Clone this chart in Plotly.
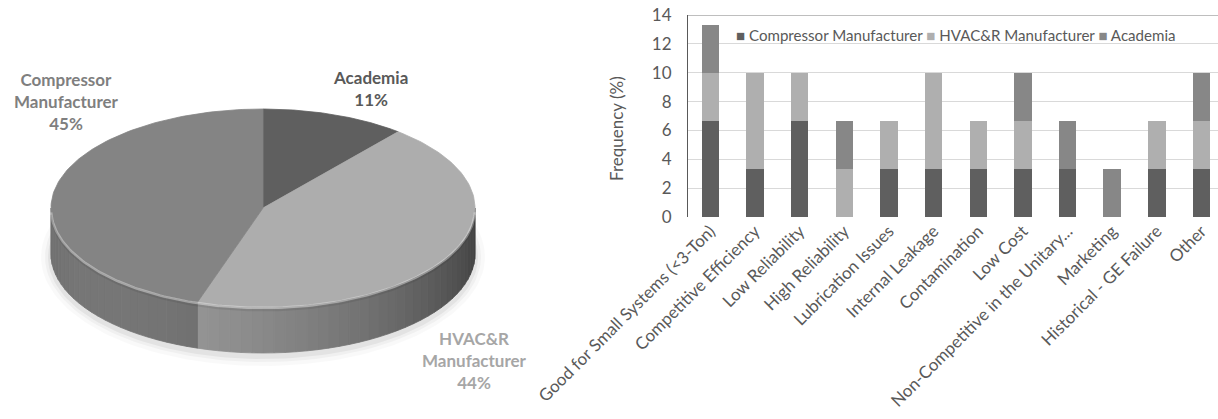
import numpy as np
import plotly.graph_objects as go

# ---------------- data ----------------
# respondent groups (pie)
pie_groups = ["Academia", "HVAC&R Manufacturer", "Compressor Manufacturer"]
pie_shares = [11, 44, 45]
pie_label_lines = ["Academia", "HVAC&R<br>Manufacturer", "Compressor<br>Manufacturer"]

# reasons (stacked bars, frequency in %)
categories = [
    "Good for Small Systems (&lt;3-Ton)",
    "Competitive Efficiency",
    "Low Reliability",
    "High Reliability",
    "Lubrication Issues",
    "Internal Leakage",
    "Contamination",
    "Low Cost",
    "Non-Competitive in the Unitary...",
    "Marketing",
    "Historical - GE Failure",
    "Other",
]
compressor_mfr = [6.67, 3.33, 6.67, 0, 3.33, 3.33, 3.33, 3.33, 3.33, 0, 3.33, 3.33]
hvacr_mfr = [3.33, 6.67, 3.33, 3.33, 3.33, 6.67, 3.33, 3.33, 0, 0, 3.33, 3.33]
academia = [3.33, 0, 0, 3.33, 0, 0, 0, 3.33, 3.33, 3.33, 0, 3.33]
y_ticks = [0, 2, 4, 6, 8, 10, 12, 14]

# ---------------- style ----------------
W, H = 1218, 419
FONT = "Lato"
TXT = "#595959"
top_colors = {"Academia": (95, 95, 95), "HVAC&R Manufacturer": (173, 173, 173),
              "Compressor Manufacturer": (132, 132, 132)}
bar_colors = {"Compressor Manufacturer": "#5f5f5f", "HVAC&R Manufacturer": "#afafaf",
              "Academia": "#878787"}
label_colors = {"Academia": "#595959", "HVAC&R Manufacturer": "#a6a6a6",
                "Compressor Manufacturer": "#7f7f7f"}
label_pos = {"Academia": (370, 88), "HVAC&R Manufacturer": (474, 360),
             "Compressor Manufacturer": (66, 101)}

# pie geometry in pixel units of the left panel
cx, cy, ra, rb, depth = 263, 208, 212, 99, 46
PW = 500

fig = go.Figure()


def rgb(c):
    return "rgb(%d,%d,%d)" % tuple(int(max(0, min(255, v))) for v in c)


def edge(t_deg, dy=0.0):
    t = np.radians(t_deg)
    return cx + ra * np.cos(t), cy - rb * np.sin(t) + dy


# slice angle ranges: start at 12 o'clock, run clockwise
bounds = []
start = 90.0
for g, s in zip(pie_groups, pie_shares):
    end = start - 360.0 * s / sum(pie_shares)
    bounds.append((g, start, end))
    start = end

# soft shadow under the pie
for k, a in [(10, 0.025), (6, 0.035), (3, 0.05)]:
    t = np.radians(np.linspace(0, 360, 181))
    xs = cx + (ra + k) * np.cos(t)
    ys = cy + depth + 3 - (rb + k) * np.sin(t)
    fig.add_trace(go.Scatter(x=xs, y=ys, mode="lines", fill="toself",
                             fillcolor=f"rgba(0,0,0,{a})", line=dict(width=0),
                             hoverinfo="skip", showlegend=False,
                             xaxis="x2", yaxis="y2"))

# side wall, shaded in thin strips (front half only)
for g, t1, t2 in bounds:
    spans = []
    for shift in (0.0, -360.0):
        lo = max(min(t1, t2) + shift, -180.0)
        hi = min(max(t1, t2) + shift, 0.0)
        if lo < hi:
            spans.append((lo, hi))
    for a0, a1 in spans:
        n = max(2, int((a1 - a0) / 3))
        ts = np.linspace(a0, a1, n + 1)
        for i in range(n):
            seg = np.linspace(ts[i], ts[i + 1], 4)
            xt, yt = edge(seg)
            xb, yb = edge(seg[::-1], depth)
            mid = np.radians(0.5 * (ts[i] + ts[i + 1]))
            f = 0.6 + 0.3 * np.cos(mid - np.radians(-140))
            col = rgb(np.array(top_colors[g]) * f)
            fig.add_trace(go.Scatter(
                x=np.r_[xt, xb, xt[0]], y=np.r_[yt, yb, yt[0]], mode="lines",
                fill="toself", fillcolor=col, line=dict(width=0.8, color=col),
                hoverinfo="skip", showlegend=False, xaxis="x2", yaxis="y2"))

# top faces
for g, t1, t2 in bounds:
    seg = np.linspace(t1, t2, 120)
    xs, ys = edge(seg)
    col = rgb(top_colors[g])
    fig.add_trace(go.Scatter(
        x=np.r_[cx, xs, cx], y=np.r_[cy, ys, cy], mode="lines", fill="toself",
        fillcolor=col, line=dict(width=0.8, color=col), name=g,
        hoverinfo="skip", showlegend=False, xaxis="x2", yaxis="y2"))

# bevel highlight along the front rim
seg = np.linspace(-178, -2, 150)
xs, ys = edge(seg, 1.0)
fig.add_trace(go.Scatter(x=xs, y=ys, mode="lines",
                         line=dict(width=2.5, color="rgba(255,255,255,0.35)"),
                         hoverinfo="skip", showlegend=False, xaxis="x2", yaxis="y2"))
xs, ys = edge(seg, 3.5)
fig.add_trace(go.Scatter(x=xs, y=ys, mode="lines",
                         line=dict(width=2, color="rgba(0,0,0,0.08)"),
                         hoverinfo="skip", showlegend=False, xaxis="x2", yaxis="y2"))

# pie labels
for g, s, txt in zip(pie_groups, pie_shares, pie_label_lines):
    x, y = label_pos[g]
    fig.add_annotation(x=x, y=y, xref="x2", yref="y2", text=f"<b>{txt}<br>{s}%</b>",
                       showarrow=False, align="center",
                       xanchor="center", yanchor="middle",
                       font=dict(family=FONT, size=17, color=label_colors[g]))

# ---------------- stacked bars ----------------
series = [("Compressor Manufacturer", compressor_mfr),
          ("HVAC&R Manufacturer", hvacr_mfr),
          ("Academia", academia)]
for name, vals in series:
    fig.add_trace(go.Bar(x=categories, y=vals, name=name, width=0.39,
                         marker=dict(color=bar_colors[name], line=dict(width=0)),
                         showlegend=False, xaxis="x", yaxis="y"))

x0 = 688 / W
y_top = 1 - 15 / H
y_bot = 1 - 217 / H
fig.update_layout(
    width=W, height=H,
    margin=dict(l=0, r=0, t=0, b=0, autoexpand=False),
    paper_bgcolor="white", plot_bgcolor="white",
    barmode="stack",
    font=dict(family=FONT, color=TXT),
    xaxis=dict(domain=[x0, 1], type="category", range=[-0.5, 11.37],
               tickangle=-45, tickfont=dict(size=17, color=TXT),
               showgrid=False, zeroline=False, showline=False, ticks="",
               automargin=False, fixedrange=True),
    yaxis=dict(domain=[y_bot, y_top], range=[0, 14], tickvals=y_ticks,
               tickfont=dict(size=17, color=TXT), showgrid=True,
               gridcolor="#d9d9d9", gridwidth=1, zeroline=False,
               showline=True, linecolor="#595959", linewidth=1, ticks="",
               ticklabelstandoff=12, automargin=False, fixedrange=True),
    xaxis2=dict(domain=[0, PW / W], range=[0, PW], visible=False,
                automargin=False, fixedrange=True),
    yaxis2=dict(domain=[0, 1], range=[H, 0], visible=False,
                automargin=False, fixedrange=True),
    showlegend=False,
)

# plot-area top border
fig.add_shape(type="line", xref="paper", yref="y", x0=x0, x1=1, y0=14, y1=14,
              line=dict(color="#7f7f7f", width=1.2))

# series key across the top of the bar panel
key = " ".join(
    f"<span style='color:{bar_colors[name]}'>■</span> {name}" for name, _ in series)
fig.add_annotation(x=734 / W, y=1 - 35 / H, xref="paper", yref="paper",
                   xanchor="left", yanchor="middle", text=key, showarrow=False,
                   font=dict(family=FONT, size=15.1, color=TXT))

fig.add_annotation(x=616 / W, y=1 - 129 / H, xref="paper", yref="paper",
                   xanchor="center", yanchor="middle",
                   text="Frequency (%)", textangle=-90, showarrow=False,
                   font=dict(family=FONT, size=17, color=TXT))

fig.write_html("out.html")
